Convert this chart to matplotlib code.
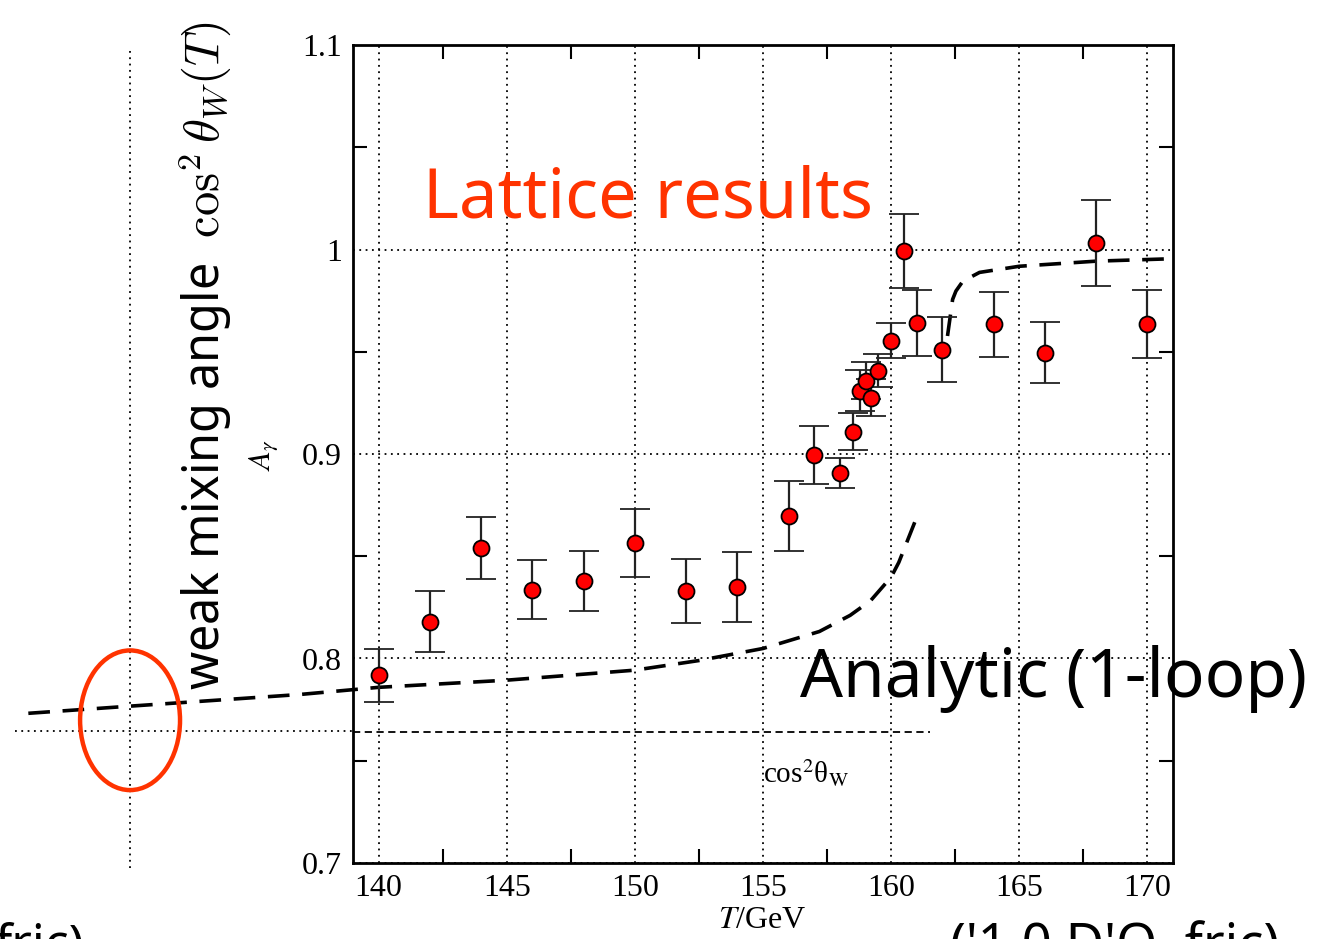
import matplotlib
matplotlib.use('Agg')
import matplotlib.pyplot as plt
from matplotlib.patches import Ellipse
from matplotlib.ticker import FixedLocator

plt.rcParams['font.family'] = ['Liberation Serif', 'DejaVu Serif']

# lattice data
temps = [140, 142, 144, 146, 148, 150, 152, 154, 156, 157, 158, 158.5, 158.8,
         159.0, 159.2, 159.5, 160.0, 160.5, 161, 162, 164, 166, 168, 170]
a_gamma = [0.7917, 0.818, 0.854, 0.8337, 0.838, 0.8566, 0.8332, 0.835, 0.8698,
           0.8995, 0.8907, 0.911, 0.9309, 0.9358, 0.9276, 0.9407, 0.9555,
           0.9992, 0.964, 0.951, 0.9634, 0.9496, 1.0033, 0.9634]
a_err = [0.013, 0.015, 0.015, 0.0145, 0.0146, 0.0166, 0.0156, 0.017, 0.017,
         0.0144, 0.0075, 0.009, 0.01, 0.009, 0.009, 0.008, 0.0086, 0.018,
         0.016, 0.016, 0.016, 0.015, 0.021, 0.0167]

# analytic 1-loop curve, two branches
t_low = [126.33, 130.3, 136.92, 140, 145, 150, 152.5, 155, 157.2, 158.4, 159.2,
         160, 160.3, 161.0]
a_low = [0.7732, 0.7767, 0.7824, 0.7859, 0.7894, 0.7943, 0.799, 0.8049,
         0.8132, 0.8211, 0.8283, 0.8398, 0.847, 0.8691]
t_high = [162.2, 162.4, 162.53, 162.8, 163.45, 165, 168, 171]
a_high = [0.9577, 0.9756, 0.9797, 0.9845, 0.9888, 0.9918, 0.9943, 0.9955]

cos2_w = 0.7639
xticks = [140, 145, 150, 155, 160, 165, 170]
xminor = [142.5, 147.5, 152.5, 157.5, 162.5, 167.5]
yticks = [0.7, 0.8, 0.9, 1.0, 1.1]
yminor = [0.75, 0.85, 0.95, 1.05]
ytick_labels = ['0.7', '0.8', '0.9', '1', '1.1']

red = '#ff3300'
sans = ['Noto Sans', 'DejaVu Sans']

fig = plt.figure(figsize=(13.42, 9.39), dpi=100)
ax = fig.add_axes([353 / 1342, 1 - 863 / 939, 820 / 1342, 818 / 939])
ax.set_xlim(139, 171)
ax.set_ylim(0.7, 1.1)

ax.set_xticks(xticks)
ax.set_yticks(yticks)
ax.set_yticklabels(ytick_labels)
ax.xaxis.set_minor_locator(FixedLocator(xminor))
ax.yaxis.set_minor_locator(FixedLocator(yminor))
ax.tick_params(which='major', length=0, labelsize=23, pad=8)
ax.tick_params(which='minor', length=10, width=1.5, direction='in',
               top=True, right=True)
ax.grid(True, which='major', color='k', linestyle=(0, (1, 2.5)), linewidth=1.3)
for sp in ax.spines.values():
    sp.set_linewidth(2)

# cos^2 theta_W reference line
ax.plot([139, 161.5], [cos2_w, cos2_w], color='k', lw=1.3, ls=(0, (4, 2.5)))
ax.plot([125.82, 139], [0.7644, 0.7644], color='k', lw=1.3,
        ls=(0, (1, 2.5)), clip_on=False)
ax.plot([130.3, 130.3], [0.6976, 1.0976], color='k', lw=1.3,
        ls=(0, (1, 2.5)), clip_on=False)

# analytic curve
ax.plot(t_low, a_low, color='k', lw=2.6, ls=(0, (6, 3.5)), clip_on=False)
ax.plot(t_high, a_high, color='k', lw=2.6, ls=(0, (6, 3.5)), clip_on=False)

ax.errorbar(temps, a_gamma, yerr=a_err, fmt='o', color='#222222', ecolor='#222222',
            elinewidth=1.6, capsize=11, capthick=1.6, markersize=11.5,
            markerfacecolor='#ff0000', markeredgecolor='k', markeredgewidth=1.3,
            zorder=5)

ell = Ellipse((130.3, 0.7698), width=3.9, height=0.0683, fill=False,
              edgecolor=red, lw=3.2, clip_on=False, zorder=6)
ax.add_patch(ell)

ax.text(141.75, 1.0244, 'Lattice results', color=red, fontsize=49.5,
        family=sans, ha='left', va='center')
ax.text(156.44, 0.7902, 'Analytic (1-loop)', color='k', fontsize=48.5,
        family=sans, ha='left', va='center')
ax.text(155.0, 0.7439, r'cos$^{2}$θ$_{\rm W}$', fontsize=21, ha='left',
        va='center', math_fontfamily='stix')

fig.text(264 / 1342, 1 - 455 / 939, r'$A_\gamma$', fontsize=22, rotation=90,
         ha='center', va='center', math_fontfamily='stix')
fig.text(762 / 1342, 1 - 920 / 939, r'$T$/GeV', fontsize=23, ha='center',
         va='center', math_fontfamily='stix')

fig.text(205 / 1342, 1 - 690 / 939, r'weak mixing angle  $\cos^2\theta_W(T)$',
         fontsize=35, family=sans, rotation=90, ha='center', va='bottom',
         math_fontfamily='cm')

fig.text(-0.004, 1 - 922 / 939, 'fric)', fontsize=36, family=sans, va='top')
fig.text(950 / 1342, 1 - 922 / 939, "('1 0 D'O  fric)", fontsize=38,
         family=sans, va='top')

fig.savefig('out.png', dpi=100)
